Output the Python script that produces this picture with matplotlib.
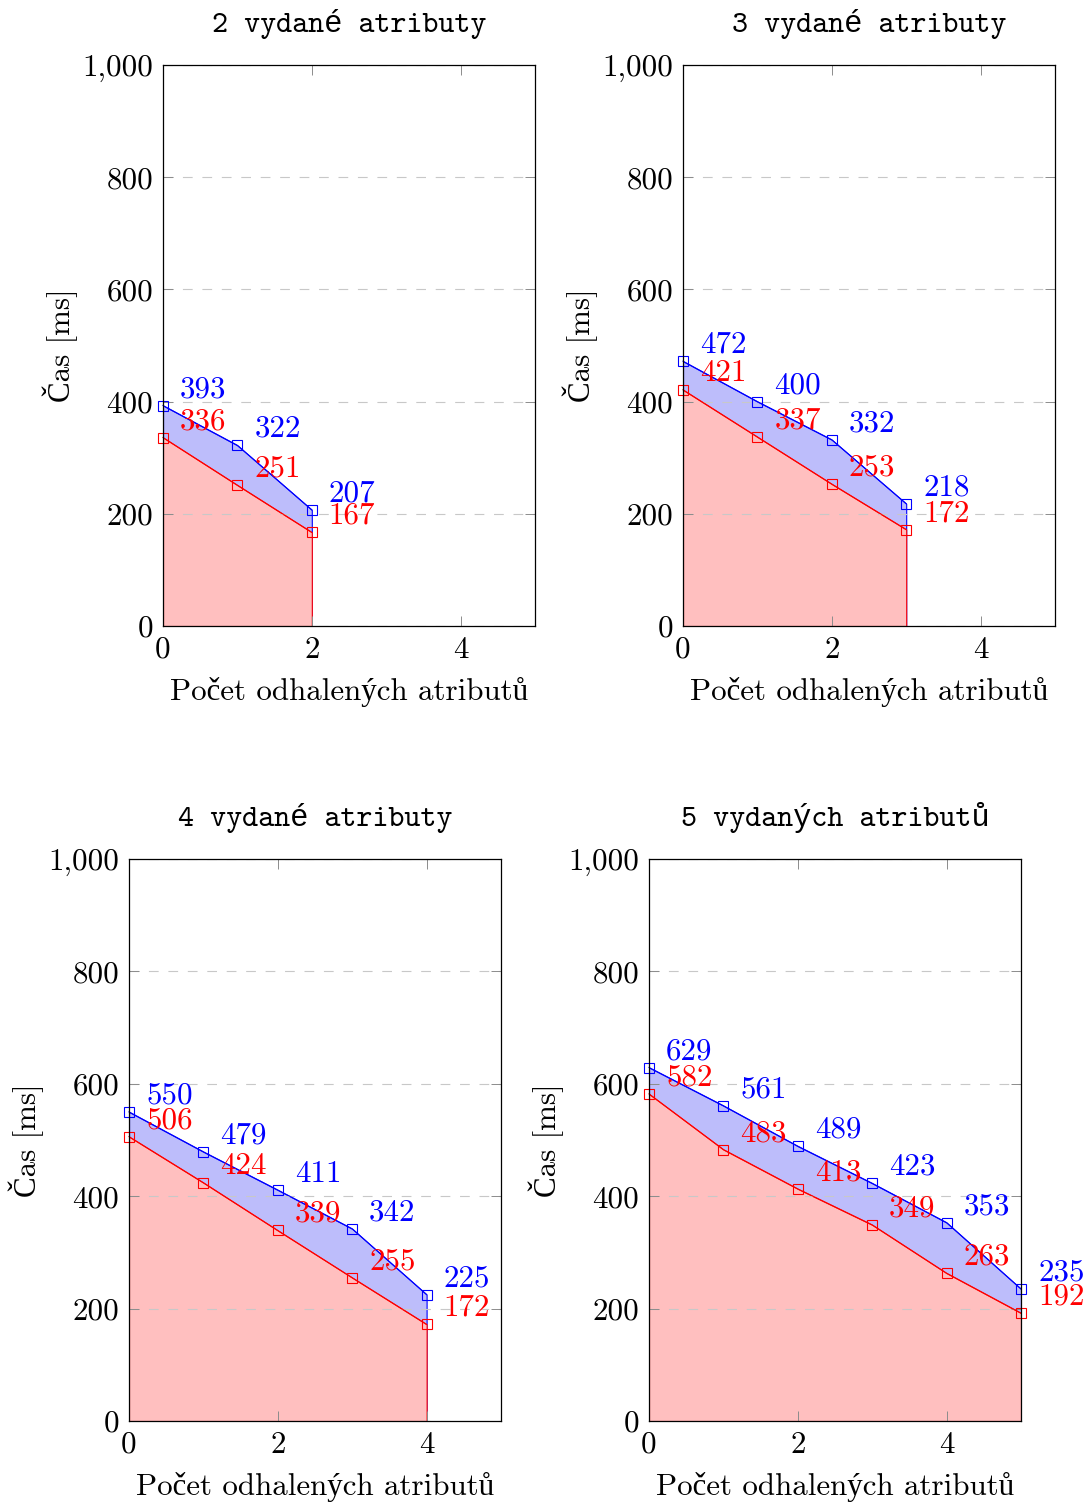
import matplotlib
matplotlib.use("Agg")
import matplotlib.pyplot as plt

plt.rcParams['font.family'] = ['cmr10', 'Liberation Serif']
plt.rcParams['axes.formatter.use_mathtext'] = True
plt.rcParams['lines.scale_dashes'] = False

# ---- data ----
titles = ["2 vydané atributy", "3 vydané atributy", "4 vydané atributy", "5 vydaných atributů"]
x_vals = [[0, 1, 2], [0, 1, 2, 3], [0, 1, 2, 3, 4], [0, 1, 2, 3, 4, 5]]
blue_vals = [[393, 322, 207],
             [472, 400, 332, 218],
             [550, 479, 411, 342, 225],
             [629, 561, 489, 423, 353, 235]]
red_vals = [[336, 251, 167],
            [421, 337, 253, 172],
            [506, 424, 339, 255, 172],
            [582, 483, 413, 349, 263, 192]]
xticks = [0, 2, 4]
yticks = [0, 200, 400, 600, 800, 1000]
ytick_labels = ["0", "200", "400", "600", "800", "1,000"]
xlabel = "Počet odhalených atributů"
ylabel = "Čas [ms]"

W, H = 1092, 1503
DPI = 100
fig = plt.figure(figsize=(W / DPI, H / DPI), dpi=DPI)

boxes = [(163, 65, 535, 626), (683, 65, 1055, 626),
         (129, 859, 501, 1421), (649, 859, 1021, 1421)]

FS = 22.3
BLUE_FILL = '#bdbdfb'
RED_FILL = '#ffbfbf'

for i, (l, t, r, b) in enumerate(boxes):
    ax = fig.add_axes([l / W, 1 - b / H, (r - l) / W, (b - t) / H])
    x = x_vals[i]
    bl = blue_vals[i]
    rd = red_vals[i]
    ax.fill_between(x, 0, bl, facecolor=BLUE_FILL, edgecolor='blue', linewidth=0.8, zorder=1)
    ax.fill_between(x, 0, rd, facecolor=RED_FILL, edgecolor='red', linewidth=0.8, zorder=1.1)
    ax.plot(x, bl, color='blue', lw=0.8, marker='s', ms=7.5, mfc='none', mec='blue', mew=0.8,
            clip_on=False, zorder=3)
    ax.plot(x, rd, color='red', lw=0.8, marker='s', ms=7.5, mfc='none', mec='red', mew=0.8,
            clip_on=False, zorder=3)
    for xi, v in zip(x, bl):
        ax.annotate(str(v), (xi, v), xytext=(17, 8.5), textcoords='offset pixels',
                    ha='left', va='baseline', color='blue', fontsize=FS, zorder=4,
                    annotation_clip=False)
    for xi, v in zip(x, rd):
        ax.annotate(str(v), (xi, v), xytext=(17, 8.5), textcoords='offset pixels',
                    ha='left', va='baseline', color='red', fontsize=FS, zorder=4,
                    annotation_clip=False)
    ax.set_xlim(0, 5)
    ax.set_ylim(0, 1000)
    ax.set_xticks(xticks)
    ax.set_xticklabels([str(v) for v in xticks])
    ax.set_yticks(yticks)
    ax.set_yticklabels(ytick_labels)
    ax.tick_params(direction='in', top=True, right=True, length=7.5, width=0.7,
                   color='#8c8c8c', labelsize=FS, pad=7)
    ax.set_axisbelow('line')
    ax.yaxis.grid(True, color='#c8c8c8', linestyle=(0, (7, 7)), linewidth=0.8, zorder=1.5)
    for s in ax.spines.values():
        s.set_linewidth(0.9)
        s.set_zorder(5)
    ax.set_xlabel(xlabel, fontsize=FS)
    ax.xaxis.set_label_coords(0.5, -(677 - 626) / 561)
    ax.set_ylabel(ylabel, fontsize=FS)
    ax.yaxis.set_label_coords(-(163 - 78) / 372, 0.5)
    ax.set_title(titles[i], family=['cmtt10', 'Liberation Mono'], fontsize=22, pad=24)

fig.savefig("out.png", dpi=DPI)
